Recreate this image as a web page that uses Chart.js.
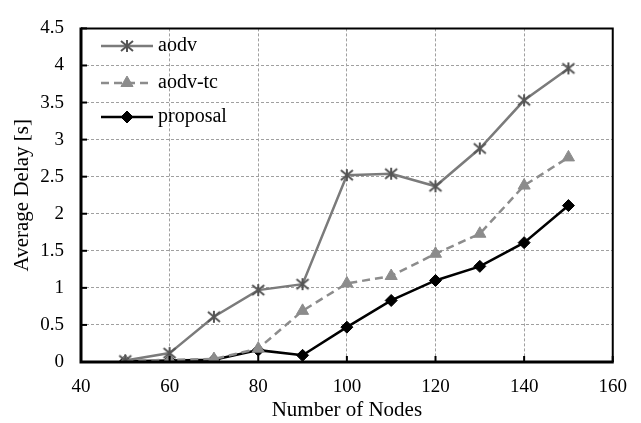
<!DOCTYPE html>
<html><head><meta charset="utf-8">
<script src="https://cdn.jsdelivr.net/npm/chart.js@4/dist/chart.umd.min.js"></script>
<style>html,body{margin:0;padding:0;background:#fff}#wrap{width:641px;height:423px}</style>
</head><body><div id="wrap"><canvas id="c" width="641" height="423"></canvas></div>
<script>
const nodes = [50, 60, 70, 80, 90, 100, 110, 120, 130, 140, 150];
const aodv = [0.02, 0.12, 0.61, 0.97, 1.05, 2.52, 2.54, 2.37, 2.88, 3.53, 3.96];
const aodvTc = [0.01, 0.03, 0.04, 0.18, 0.69, 1.06, 1.16, 1.46, 1.73, 2.38, 2.76];
const proposal = [0.01, 0.02, 0.03, 0.16, 0.09, 0.47, 0.83, 1.10, 1.29, 1.61, 2.11];
const xTicks = [40, 60, 80, 100, 120, 140, 160];
const yTicks = [0, 0.5, 1, 1.5, 2, 2.5, 3, 3.5, 4, 4.5];
const seriesNames = ['aodv', 'aodv-tc', 'proposal'];

const toXY = arr => arr.map((v, i) => ({x: nodes[i], y: v}));
const FONT = "'Liberation Serif', 'Times New Roman', serif";

// asterisk marker image (X with a short vertical bar)
const star = document.createElement('canvas');
star.width = 16; star.height = 16;
(() => {
  const g = star.getContext('2d');
  g.strokeStyle = '#555'; g.lineWidth = 2; g.lineCap = 'butt';
  g.beginPath();
  g.moveTo(2, 3); g.lineTo(14, 13);
  g.moveTo(14, 3); g.lineTo(2, 13);
  g.moveTo(8, 2); g.lineTo(8, 14);
  g.stroke();
})();

const framePlugin = {
  id: 'frame',
  afterDatasetsDraw(chart) {
    const {ctx, chartArea: a} = chart;
    ctx.save();
    ctx.strokeStyle = '#000';
    ctx.lineWidth = 2;
    ctx.beginPath();
    ctx.moveTo(a.left, a.top); ctx.lineTo(a.right, a.top); ctx.lineTo(a.right, a.bottom);
    ctx.stroke();
    ctx.lineWidth = 3;
    ctx.beginPath();
    ctx.moveTo(a.left, a.top - 1); ctx.lineTo(a.left, a.bottom); ctx.lineTo(a.right + 1, a.bottom);
    ctx.stroke();
    ctx.lineWidth = 2;
    const ys = chart.scales.y, xs = chart.scales.x;
    yTicks.forEach(t => { const py = ys.getPixelForValue(t); ctx.beginPath(); ctx.moveTo(a.left, py); ctx.lineTo(a.left + 6, py); ctx.stroke(); });
    xTicks.forEach(t => { const px = xs.getPixelForValue(t); ctx.beginPath(); ctx.moveTo(px, a.bottom); ctx.lineTo(px, a.bottom - 6); ctx.stroke(); });
    // legend inside plot
    const ly = [46, 83, 117];
    chart.data.datasets.forEach((ds, i) => {
      const y = ly[i];
      ctx.save();
      ctx.strokeStyle = ds.borderColor;
      ctx.lineWidth = ds.borderWidth;
      ctx.setLineDash(ds.borderDash || []);
      ctx.beginPath(); ctx.moveTo(101, y); ctx.lineTo(153, y); ctx.stroke();
      ctx.restore();
      ctx.save();
      ctx.fillStyle = ds.pointBackgroundColor;
      ctx.strokeStyle = ds.pointBorderColor;
      ctx.lineWidth = ds.pointBorderWidth;
      Chart.helpers.drawPoint(ctx, {pointStyle: ds.pointStyle, rotation: 0, radius: ds.pointRadius, borderWidth: ds.pointBorderWidth}, 127, y);
      ctx.restore();
      ctx.fillStyle = '#000';
      ctx.font = '20px ' + FONT;
      ctx.textBaseline = 'middle';
      ctx.textAlign = 'left';
      ctx.fillText(ds.label, 158, y);
    });
    ctx.restore();
  }
};

new Chart(document.getElementById('c'), {
  type: 'line',
  data: {
    datasets: [
      {label: seriesNames[0], data: toXY(aodv), borderColor: '#7b7b7b', borderWidth: 2.5,
       pointStyle: star, pointRadius: 7, pointBorderColor: '#555', pointBorderWidth: 2, pointBackgroundColor: '#555'},
      {label: seriesNames[1], data: toXY(aodvTc), borderColor: '#8c8c8c', borderWidth: 2.5, borderDash: [8, 5],
       pointStyle: 'triangle', pointRadius: 7, pointBorderColor: '#8c8c8c', pointBackgroundColor: '#8c8c8c', pointBorderWidth: 1},
      {label: seriesNames[2], data: toXY(proposal), borderColor: '#000', borderWidth: 2.5,
       pointStyle: 'rectRot', pointRadius: 6, pointBorderColor: '#000', pointBackgroundColor: '#000', pointBorderWidth: 1}
    ]
  },
  options: {
    responsive: false, animation: false,
    layout: {padding: {left: 0, right: 27, top: 17, bottom: 0}},
    plugins: {legend: {display: false}, tooltip: {enabled: false}},
    scales: {
      x: {type: 'linear', min: 40, max: 160,
        afterBuildTicks: s => { s.ticks = xTicks.map(v => ({value: v})); },
        afterFit: s => { s.height = 61; },
        grid: {color: '#a0a0a0', lineWidth: 1, drawTicks: false},
        border: {display: false, dash: [3, 2]},
        ticks: {font: {family: FONT, size: 19}, color: '#000', padding: 14, maxRotation: 0},
        title: {display: true, text: 'Number of Nodes', font: {family: FONT, size: 21}, color: '#000', padding: {top: 0, bottom: 0}}
      },
      y: {min: 0, max: 4.5,
        afterBuildTicks: s => { s.ticks = yTicks.map(v => ({value: v})); },
        afterFit: s => { s.width = 81; },
        grid: {color: '#a0a0a0', lineWidth: 1, drawTicks: false},
        border: {display: false, dash: [3, 2]},
        ticks: {font: {family: FONT, size: 19}, color: '#000', padding: 17, callback: v => String(v)},
        title: {display: true, text: 'Average Delay [s]', font: {family: FONT, size: 21}, color: '#000', padding: {top: 10, bottom: 0}}
      }
    }
  },
  plugins: [framePlugin]
});
</script></body></html>
